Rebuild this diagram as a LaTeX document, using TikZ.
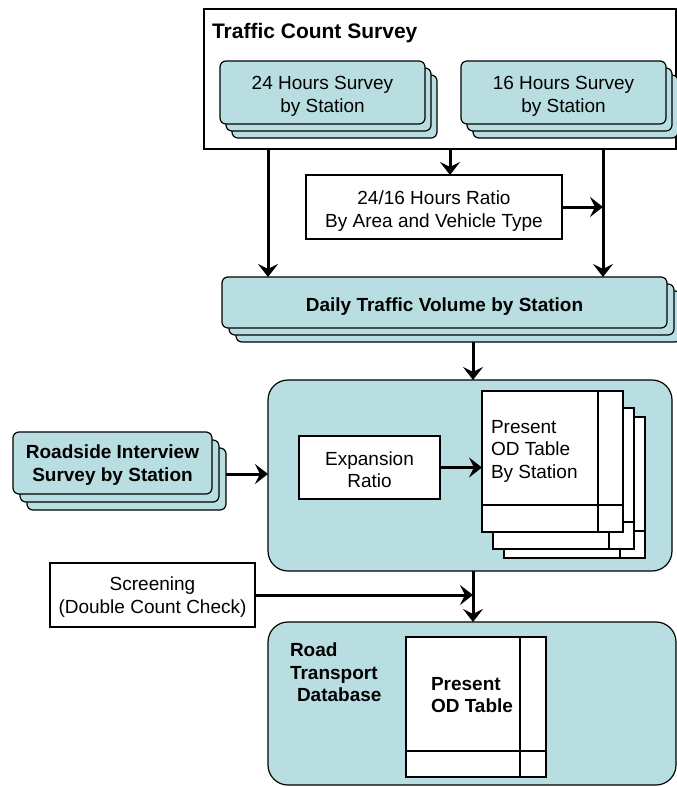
\documentclass[tikz,border=0pt]{standalone}
\usepackage{fontspec}
\setmainfont{Liberation Sans}
\usetikzlibrary{arrows.meta}
\definecolor{tealfill}{RGB}{185,222,225}
\begin{document}
\begin{tikzpicture}[x=1pt,y=-1pt,
  every node/.style={inner sep=0pt, outer sep=0pt},
  txt/.style={font=\fontsize{19}{22.5}\selectfont, align=center},
  btxt/.style={font=\bfseries\fontsize{19}{22.5}\selectfont, align=center},
  plain/.style={draw, line width=1.2pt, fill=white},
  tile/.style={draw, line width=1.2pt, fill=tealfill, rounded corners=6pt},
  panel/.style={draw, line width=1.2pt, fill=tealfill, rounded corners=20pt},
  page/.style={draw, line width=1.2pt, fill=white},
  rule/.style={line width=1.2pt},
  flow/.style={line width=3pt, -{Stealth[length=13pt,width=20pt,inset=5pt]}},
]
\useasboundingbox (0,0) rectangle (677,787);

% Traffic count survey frame
\node[plain, minimum width=472, minimum height=140, anchor=north west] (tcs) at (204,9) {};
\node[font=\bfseries\fontsize{21}{24}\selectfont, anchor=base west] (tcstitle) at (212,38) {Traffic Count Survey};

% 24 hours survey stack
\node[tile, minimum width=205, minimum height=63] (h24c) at (334.5,106.5) {};
\node[tile, minimum width=205, minimum height=63] (h24b) at (328.5,99.5) {};
\node[tile, minimum width=205, minimum height=63] (h24) at (322.5,92.5) {};
\node[txt, yshift=-4pt] (h24t) at (h24) {24 Hours Survey\\by Station};

% 16 hours survey stack
\node[tile, minimum width=205, minimum height=63] (h16c) at (575.5,106.5) {};
\node[tile, minimum width=205, minimum height=63] (h16b) at (569.5,99.5) {};
\node[tile, minimum width=205, minimum height=63] (h16) at (563.5,92.5) {};
\node[txt, yshift=-4pt] (h16t) at (h16) {16 Hours Survey\\by Station};

% Ratio box
\node[plain, minimum width=256, minimum height=64] (ratio) at (434,207) {};
\node[txt, yshift=-4pt] (ratiot) at (ratio) {24/16 Hours Ratio\\By Area and Vehicle Type};

% Daily traffic volume stack
\node[tile, minimum width=445, minimum height=51] (dailyc) at (458.5,316.5) {};
\node[tile, minimum width=445, minimum height=51] (dailyb) at (451.5,309.5) {};
\node[tile, minimum width=445, minimum height=51] (daily) at (444.5,302.5) {};
\node[btxt, yshift=-4pt] (dailyt) at (daily) {Daily Traffic Volume by Station};

% Roadside interview stack
\node[tile, minimum width=199, minimum height=62] (roadc) at (126.5,479) {};
\node[tile, minimum width=199, minimum height=62] (roadb) at (119.5,471) {};
\node[tile, minimum width=199, minimum height=62] (road) at (112.5,463) {};
\node[btxt, yshift=-2pt] (roadt) at (road) {Roadside Interview\\Survey by Station};

% Expansion process panel
\node[panel, minimum width=404, minimum height=191] (proc) at (470,475.5) {};
\node[plain, minimum width=141, minimum height=63] (expansion) at (369.5,467.5) {};
\node[txt, yshift=-2pt] (expansiont) at (expansion) {Expansion\\Ratio};

% OD table pages by station
\foreach \n/\cx/\cy in {odc/574.5/487.5, odb/563.5/478.5, od/552.5/461.5} {
  \node[page, minimum width=141, minimum height=141] (\n) at (\cx,\cy) {};
  \draw[rule] ([xshift=-25pt]\n.north east) -- ([xshift=-25pt]\n.south east);
  \draw[rule] ([yshift=27pt]\n.south west) -- ([yshift=27pt]\n.south east);
}
\node[txt, align=left, anchor=north west] (odtext) at (491,420) {Present\\OD Table\\By Station};

% Screening
\node[plain, minimum width=205, minimum height=64] (screen) at (152.5,595) {};
\node[txt, yshift=-2pt] (screent) at (screen) {Screening\\(Double Count Check)};

% Road transport database
\node[panel, minimum width=408, minimum height=163] (db) at (472,703.5) {};
\node[btxt, align=left, anchor=north west] (dbtitle) at (290,643) {Road\\Transport\\\hspace*{7pt}Database};
\node[page, minimum width=140, minimum height=140] (dbod) at (476,707) {};
\draw[rule] ([xshift=-26pt]dbod.north east) -- ([xshift=-26pt]dbod.south east);
\draw[rule] ([yshift=26pt]dbod.south west) -- ([yshift=26pt]dbod.south east);
\node[btxt, align=left, anchor=north west] (dbodtext) at (431,677) {Present\\OD Table};

% Connector guide positions
\coordinate (xl) at (268,0);
\coordinate (xm) at (450,0);
\coordinate (xr) at (603,0);
\coordinate (xc) at (473,0);
\coordinate (ry) at (0,474);

% Connectors
\draw[flow] (tcs.south -| xl) -- (daily.north -| xl);
\draw[flow] (tcs.south -| xm) -- (ratio.north -| xm);
\draw[flow] (tcs.south -| xr) -- (daily.north -| xr);
\draw[flow] (ratio.east) -- (ratio.east -| xr);
\draw[flow] (dailyc.south -| xc) -- (proc.north -| xc);
\draw[flow] (roadc.east |- ry) -- (proc.west |- ry);
\draw[flow] (expansion.east) -- (od.west |- expansion.east);
\draw[flow] (proc.south -| xc) -- (db.north -| xc);
\draw[flow] (screen.east) -- (screen.east -| xc);
\end{tikzpicture}
\end{document}
